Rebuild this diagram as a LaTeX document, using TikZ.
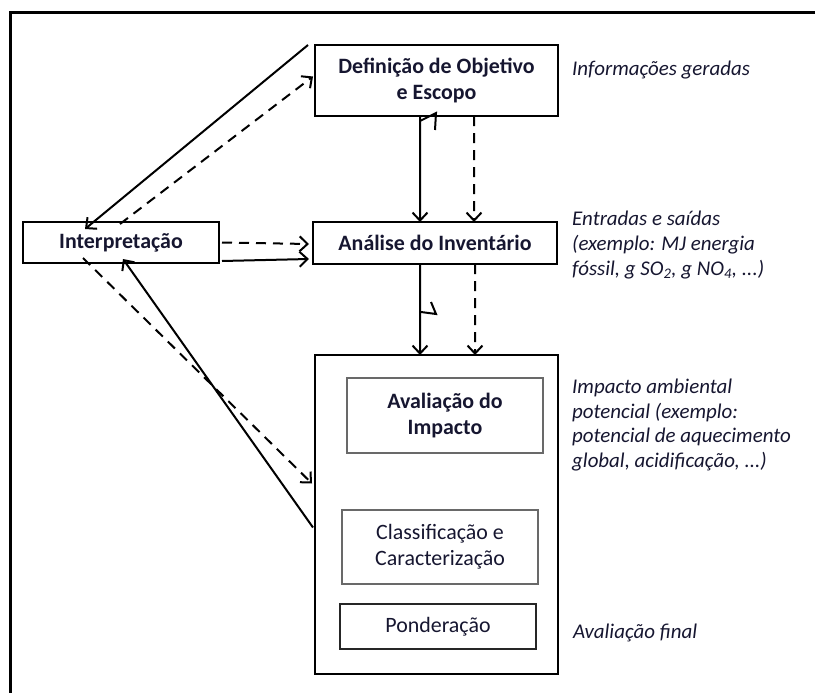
\documentclass[tikz,border=0pt]{standalone}
\usepackage{fontspec}
\setmainfont{Carlito}
\usetikzlibrary{arrows.meta}
\definecolor{ink}{RGB}{22,22,48}
\definecolor{innerline}{RGB}{105,105,105}
\begin{document}
\begin{tikzpicture}[x=1bp,y=-1bp,
  mainbox/.style={draw=black, line width=2.4bp, inner sep=0pt, outer sep=0pt, align=center,
    font=\fontsize{22}{26}\selectfont\bfseries, text=ink},
  subbox/.style={draw=innerline, line width=1.6bp, inner sep=0pt, outer sep=0pt, align=center,
    font=\fontsize{22}{26}\selectfont, text=ink},
  note/.style={anchor=west, inner sep=0pt, align=left,
    font=\fontsize{21}{25}\selectfont\itshape, text=ink},
  flow/.style={line width=2bp, -{Straight Barb[length=8bp,width=15bp]}},
  flowdash/.style={flow, dash pattern=on 10bp off 7bp}]

\useasboundingbox (0,0) rectangle (815,693);
\clip (0,0) rectangle (815,693);

% outer frame (runs past the page on the right and bottom)
\draw[line width=3bp] (10,720) -- (10,13) -- (840,13);

% main stages
\node[mainbox, minimum width=243bp, minimum height=71bp] (def) at (436.5,80.5)
  {Definição de Objetivo\\e Escopo};
\node[mainbox, minimum width=244bp, minimum height=42bp] (ana) at (435,243)
  {Análise do Inventário};
\node[mainbox, minimum width=196bp, minimum height=41bp] (int) at (121,242.5)
  {Interpretação};
\node[draw=black, line width=2.4bp, minimum width=243bp, minimum height=319bp,
  inner sep=0pt, outer sep=0pt] (big) at (436.5,514.5) {};

% impact assessment steps
\node[subbox, font=\fontsize{22}{26}\selectfont\bfseries, minimum width=196bp, minimum height=75bp]
  (aval) at (445,415.5) {Avaliação do\\Impacto};
\node[subbox, minimum width=196bp, minimum height=74bp] (clas) at (440,547)
  {Classificação e\\Caracterização};
\node[subbox, draw=black!85, line width=2bp, minimum width=196bp, minimum height=45bp]
  (pond) at (438,626.5) {Ponderação};

% side notes
\node[note] (n1) at (572,70) {Informações geradas};
\node[note] (n2) at (572,245) {Entradas e saídas\\(exemplo: MJ energia\\fóssil, g SO\textsubscript{2}, g NO\textsubscript{4}, ...)};
\node[note] (n3) at (572,425) {Impacto ambiental\\potencial (exemplo:\\potencial de aquecimento\\global, acidificação, ...)};
\node[note] (n4) at (573,633) {Avaliação final};

% vertical flows
\draw[flow] ([xshift=-16.5bp]def.south) -- ([xshift=-15bp]ana.north);
\draw[flowdash] ([xshift=37.5bp]def.south) -- ([xshift=39bp]ana.north);
\draw[flow] ([xshift=-15bp]ana.south) -- ([xshift=-16.5bp]big.north);
\draw[flowdash] ([xshift=40bp]ana.south) -- ([xshift=38.5bp]big.north);

% small marks on the solid vertical lines
\draw[line width=2bp] (420,121) -- (436,113) -- (435,130);
\draw[line width=2bp] (421,312) -- (436,314) -- (431,302);

% interpretation links
\draw[flowdash] ([xshift=3bp]int.east) -- ([xshift=-4bp,yshift=-1bp]ana.west);
\draw[flow] ([shift={(3bp,2bp)}]int.south east) -- ([shift={(-4bp,5bp)}]ana.south west);
\draw[flow] ([xshift=-7bp]def.north west) -- ([shift={(-36bp,-7bp)}]int.north);
\draw[flowdash] ([shift={(-1bp,-2bp)}]int.north) -- ([shift={(-2bp,4bp)}]def.west);
\draw[flow] ([shift={(-2bp,-13bp)}]big.west) -- ([shift={(2bp,4bp)}]int.south);
\draw[flowdash] ([shift={(-38bp,5bp)}]int.south) -- ([shift={(-3bp,31bp)}]big.west);

\end{tikzpicture}
\end{document}
